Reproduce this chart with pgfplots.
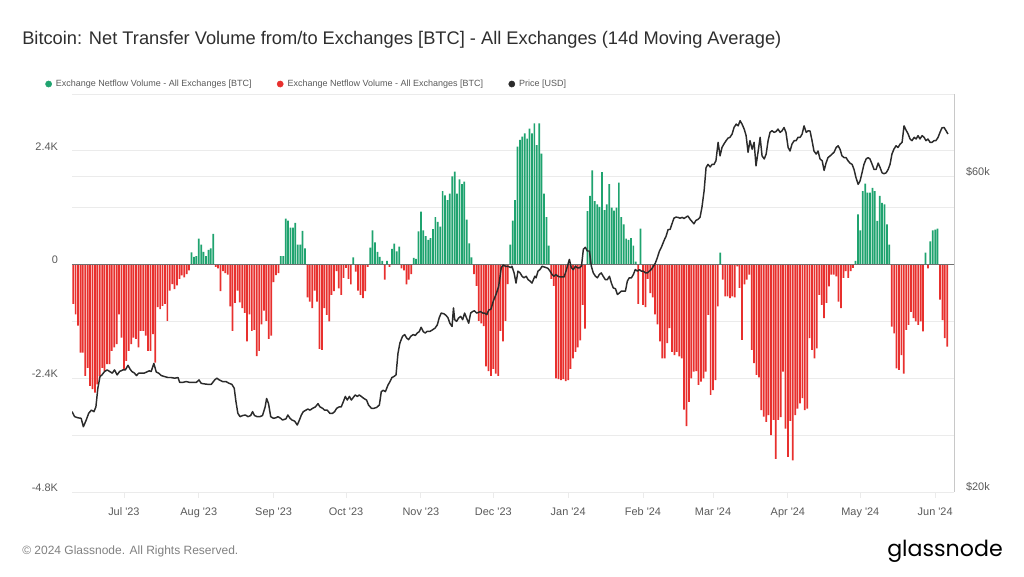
\documentclass[border=0pt]{standalone}
\usepackage{fontspec}
\setmainfont{Liberation Sans}
\newfontfamily\logofont{Poppins}
\usepackage{pgfplots}
\usepackage{pgfplotstable}
\pgfplotsset{compat=1.18}
\definecolor{gnGreen}{HTML}{1FA36F}
\definecolor{gnRed}{HTML}{E8302E}
\definecolor{priceBlack}{HTML}{2B2B2B}
\definecolor{gridGray}{HTML}{EBEBEB}
\definecolor{zeroGray}{HTML}{707070}
\definecolor{labelGray}{HTML}{595959}
\definecolor{titleGray}{HTML}{2E2E2E}
\definecolor{footGray}{HTML}{808080}
\definecolor{borderGray}{HTML}{C8C8C8}

% daily netflow, thousands of BTC; day 0 = 1 Jul 2023
\pgfplotstableread{
d v
-21 -0.83
-20 -1.05
-19 -1.29
-18 -1.86
-17 -1.86
-16 -2.35
-15 -2.18
-14 -2.56
-13 -2.63
-12 -2.70
-11 -2.53
-10 -2.35
-9 -2.18
-8 -2.25
-7 -2.10
-6 -2.10
-5 -1.82
-4 -1.75
-3 -1.68
-2 -1.05
-1 -1.54
0 -2.21
1 -2.03
2 -1.82
3 -1.68
4 -1.54
5 -1.57
6 -1.75
7 -1.40
8 -1.40
9 -1.50
10 -1.82
11 -1.82
12 -1.47
13 -2.07
14 -0.90
15 -0.94
16 -0.87
17 -0.83
18 -1.19
19 -0.55
20 -0.41
21 -0.52
22 -0.44
23 -0.30
24 -0.23
25 -0.27
26 -0.20
27 -0.12
28 0.26
29 0.16
30 0.18
31 0.55
32 0.42
33 0.27
34 0.18
35 0.31
36 0.34
37 0.65
38 -0.05
39 -0.08
40 -0.56
41 -0.14
42 -0.18
43 -0.21
44 -0.88
45 -1.40
46 -0.81
47 -0.55
48 -0.80
49 -0.92
50 -1.02
51 -1.62
52 -1.05
53 -1.40
54 -1.38
55 -1.93
56 -1.82
57 -1.26
58 -0.97
59 -1.19
60 -1.57
61 -1.50
62 -0.37
63 -0.22
64 -0.18
65 0.18
66 0.18
67 0.97
68 0.93
69 0.78
70 0.78
71 0.88
72 0.42
73 0.42
74 0.71
75 0.34
76 -0.69
77 -0.78
78 -0.92
79 -0.55
80 -0.78
81 -1.78
82 -1.80
83 -0.92
84 -1.06
85 -1.20
86 -0.64
87 -0.56
88 -0.14
89 -0.50
90 -0.64
91 -0.28
92 -0.07
93 -0.30
94 -0.42
95 0.15
96 -0.15
97 -0.55
98 -0.64
99 -0.71
100 -0.56
101 -0.05
102 0.36
103 0.72
104 0.47
105 0.27
106 0.16
107 0.08
108 -0.32
109 0.08
110 -0.05
111 0.33
112 0.44
113 0.28
114 0.38
115 -0.08
116 -0.12
117 -0.42
118 -0.32
119 -0.20
120 0.14
121 0.12
122 0.70
123 1.12
124 0.72
125 0.60
126 0.52
127 0.56
128 0.75
129 1.00
130 0.90
131 0.80
132 1.55
133 1.46
134 1.36
135 1.50
136 1.86
137 1.96
138 1.50
139 1.80
140 1.70
141 1.75
142 0.95
143 0.45
144 0.15
145 -0.20
146 -0.45
147 -1.19
148 -1.24
149 -1.30
150 -2.15
151 -2.25
152 -2.35
153 -2.20
154 -2.30
155 -2.35
156 -1.40
157 -1.62
158 -1.19
159 -0.41
160 0.42
161 0.93
162 1.36
163 2.49
164 2.63
165 2.70
166 2.77
167 2.66
168 2.87
169 2.77
170 2.98
171 2.52
172 2.98
173 2.34
174 1.50
175 1.00
176 0.40
177 -0.30
178 -0.45
179 -2.40
180 -2.42
181 -2.44
182 -2.42
183 -2.46
184 -2.44
185 -2.20
186 -1.98
187 -1.84
188 -1.75
189 -1.60
190 -0.85
191 -1.35
192 1.13
193 1.45
194 1.99
195 1.34
196 1.27
197 1.22
198 1.95
199 1.15
200 1.27
201 1.70
202 1.20
203 1.14
204 1.20
205 1.73
206 1.00
207 0.85
208 0.55
209 0.52
210 0.56
211 0.40
212 0.06
213 -0.83
214 0.76
215 -0.85
216 -0.90
217 -0.30
218 -0.60
219 -0.69
220 -1.05
221 -1.26
222 -1.62
223 -1.98
224 -1.98
225 -1.66
226 -1.34
227 -1.84
228 -1.91
229 -1.84
230 -1.94
231 -1.98
232 -3.06
233 -3.41
234 -2.90
235 -2.40
236 -2.26
237 -2.25
238 -2.54
239 -2.47
240 -2.40
241 -2.26
242 -1.06
243 -2.75
244 -2.65
245 -2.44
246 -0.88
247 0.25
248 -0.32
249 -0.67
250 -0.67
251 -0.71
252 -0.67
253 -0.69
254 -0.04
255 -0.49
256 -1.59
257 -0.42
258 -0.32
259 -0.21
260 -1.80
261 -2.08
262 -2.33
263 -2.38
264 -3.07
265 -3.21
266 -3.32
267 -3.18
268 -3.60
269 -3.28
270 -4.10
271 -3.28
272 -3.22
273 -2.26
274 -3.46
275 -4.06
276 -3.30
277 -4.13
278 -3.18
279 -3.04
280 -2.93
281 -2.82
282 -3.07
283 -3.04
284 -1.55
285 -1.80
286 -1.98
287 -1.77
288 -0.64
289 -0.85
290 -1.13
291 -0.81
292 -0.46
293 -0.21
294 -0.21
295 -0.25
296 -0.78
297 -0.92
298 -0.28
299 -0.14
300 -0.28
301 -0.14
302 -0.07
303 0.08
304 1.06
305 0.72
306 1.55
307 1.71
308 1.52
309 1.52
310 1.62
311 1.55
312 0.92
313 1.45
314 1.30
315 1.27
316 0.85
317 0.42
318 -1.31
319 -1.45
320 -2.19
321 -2.22
322 -1.91
323 -2.30
324 -1.38
325 -1.27
326 -1.00
327 -1.13
328 -1.20
329 -1.27
330 -1.20
331 -1.41
332 0.25
333 -0.08
334 0.49
335 0.72
336 0.74
337 0.76
338 -0.74
339 -1.17
340 -1.55
341 -1.73
}\netflow

% BTC price, thousands of USD
\pgfplotstableread{
d p
-21.5 26.46
-20.4 26.0
-19.1 25.9
-17.7 25.85
-16.8 25.1
-15.6 25.7
-14.6 26.3
-13.5 26.6
-12.4 26.46
-11.6 26.9
-10.8 28.7
-9.9 29.9
-9.1 30.07
-8.0 30.43
-6.9 30.6
-5.9 30.43
-4.8 30.25
-3.9 30.6
-2.8 30.07
-1.8 30.43
-0.4 30.6
0.6 30.6
1.7 31.1
2.5 30.7
3.3 30.43
4.4 30.25
5.2 30.0
6.1 30.25
7.2 30.25
8.3 30.25
9.4 30.37
10.5 30.5
11.3 30.43
12.4 31.3
13.4 30.37
14.4 30.25
15.5 30.0
16.8 29.9
18.2 29.8
19.6 29.8
21.0 29.73
22.4 29.8
23.1 29.3
24.4 29.3
25.8 29.38
27.2 29.3
28.6 29.3
30.0 29.3
31.1 29.55
32.0 29.2
33.4 29.14
34.8 29.1
36.2 29.1
37.6 29.55
38.5 29.73
39.5 29.55
40.9 29.38
42.3 29.38
43.6 29.2
44.7 29.1
45.7 28.7
46.4 27.4
47.2 26.3
48.1 26.0
49.2 26.1
50.3 26.15
51.4 26.0
52.5 26.1
53.3 26.46
54.1 26.1
55.2 26.0
56.3 26.0
57.4 26.1
58.5 26.9
59.1 27.7
59.9 27.2
60.8 26.0
61.9 25.85
63.0 25.9
63.8 26.0
64.9 25.85
65.7 25.7
67.1 25.8
67.9 26.15
68.8 25.85
69.6 25.7
70.7 25.6
71.8 25.25
72.7 25.7
73.5 26.15
74.3 26.46
75.4 26.6
76.2 26.7
77.1 26.6
78.2 26.77
79.3 26.9
80.4 27.2
81.2 26.9
82.3 26.77
83.1 26.6
84.2 26.6
85.3 26.3
86.4 26.3
87.3 26.46
88.1 26.77
89.2 26.9
90.0 26.9
90.9 27.4
91.7 27.9
92.5 27.55
93.4 27.9
94.2 27.55
95.0 27.8
95.8 28.04
96.7 27.9
97.5 28.04
98.3 27.9
99.4 27.7
100.5 27.55
101.3 27.08
102.5 26.77
103.6 26.77
104.7 26.85
105.8 27.08
106.6 28.37
107.4 28.5
108.3 28.37
109.4 29.04
110.2 29.38
111.0 29.8
111.8 29.9
112.7 30.07
113.5 32.4
114.3 33.6
115.4 34.4
116.3 34.6
117.1 34.2
117.9 34.0
118.8 34.4
119.8 34.6
120.7 34.5
121.5 34.8
122.3 34.95
123.1 35.5
124.0 34.95
124.8 34.8
125.6 35.0
126.8 35.0
127.9 35.2
128.9 35.4
129.8 35.8
130.6 36.7
131.4 37.3
132.6 37.2
133.4 37.0
134.2 36.7
135.0 36.0
135.9 35.6
136.5 37.97
137.0 36.45
137.8 36.24
138.6 36.66
139.5 36.87
140.3 36.45
141.1 37.3
142.0 36.6
142.8 36.0
143.6 37.3
144.4 37.5
145.2 37.6
146.1 37.3
146.9 37.4
147.7 37.5
148.6 37.3
149.4 37.3
150.3 37.1
151.1 37.7
152.0 37.8
153.0 38.9
154.1 39.8
155.2 40.9
156.3 43.7
157.1 44.1
158.0 43.9
159.1 43.9
160.2 43.7
160.7 43.9
161.6 42.9
162.4 41.4
163.2 43.16
164.1 42.9
164.9 42.4
165.7 42.17
166.6 42.4
167.4 41.9
168.2 41.7
169.0 41.4
170.2 42.4
170.7 42.17
171.5 43.16
172.3 43.4
173.2 43.9
174.0 43.8
174.8 43.7
175.6 43.6
176.5 43.16
177.3 42.66
178.1 42.4
178.9 42.66
179.8 42.4
180.6 42.3
181.4 42.3
182.3 42.3
183.1 43.16
183.9 44.18
184.5 44.96
185.3 43.67
186.1 43.4
187.0 43.9
187.8 43.67
188.6 43.67
189.5 43.9
190.3 46.6
191.1 46.9
191.9 46.3
192.8 46.3
193.6 43.9
194.4 42.9
195.3 42.4
196.1 42.17
196.9 42.66
197.7 42.9
198.5 42.4
199.4 41.9
200.2 41.9
201.1 42.4
201.9 41.4
202.7 40.7
203.6 40.6
204.4 39.8
205.2 40.0
206.0 40.25
206.9 40.25
207.7 40.25
208.5 41.68
209.3 42.17
210.2 42.17
211.0 42.66
211.8 43.4
212.7 43.16
213.5 43.4
214.3 43.16
215.1 43.16
216.0 42.9
216.8 42.9
217.6 43.16
218.4 43.4
219.3 43.9
220.1 44.4
220.9 45.2
221.8 46.3
222.6 46.9
223.3 47.6
224.0 48.3
224.5 48.7
225.4 49.9
226.2 49.9
227.0 50.9
227.8 51.9
228.7 52.1
229.5 52.05
230.3 51.9
231.2 52.05
232.0 51.85
232.8 52.1
233.6 52.3
234.5 51.7
235.3 51.3
236.1 50.9
236.9 51.5
237.8 51.7
238.6 52.05
239.4 53.9
240.3 57.1
241.1 61.9
241.9 62.6
242.8 62.05
243.6 62.6
244.4 62.6
245.2 63.4
246.1 67.6
246.9 64.5
247.7 66.4
248.5 67.2
249.4 68.0
250.2 68.6
251.0 68.8
251.9 69.6
252.7 71.2
253.6 72.05
254.4 71.6
255.2 72.9
256.0 72.05
256.9 70.8
257.7 69.2
258.5 65.3
259.3 68.0
260.2 66.0
261.0 67.6
261.8 62.3
262.7 65.6
263.5 68.8
264.3 64.5
265.2 63.8
266.0 64.9
266.8 68.0
267.6 70.0
268.4 70.4
269.3 70.0
270.1 70.2
270.9 70.8
271.8 70.0
272.6 70.4
273.4 71.2
274.2 70.0
275.1 66.4
275.9 65.6
276.7 67.2
277.6 68.0
278.4 68.0
279.2 68.8
280.1 68.8
280.9 69.6
281.7 71.6
282.6 70.0
283.4 70.4
284.2 70.3
285.0 68.0
285.8 65.6
286.7 64.9
287.5 65.6
288.3 63.8
289.2 63.4
290.0 61.3
290.8 62.9
291.6 64.1
292.5 64.5
293.3 64.9
294.1 65.3
295.0 66.4
295.8 66.8
296.6 66.0
297.4 64.5
298.3 64.1
299.1 64.1
299.9 63.4
300.7 62.9
301.6 62.6
302.4 61.5
303.2 59.8
304.1 58.4
304.9 59.1
305.7 60.8
306.5 62.6
307.4 63.8
308.2 64.1
309.0 63.8
309.9 62.6
310.7 61.5
311.5 61.5
312.4 62.9
313.2 61.9
314.0 60.8
314.8 60.6
315.7 60.8
316.5 61.5
317.3 62.6
318.1 64.9
318.9 66.0
319.8 66.8
320.6 66.4
321.5 67.2
322.3 67.6
323.1 71.6
323.9 70.6
324.8 69.6
325.6 68.4
326.4 68.0
327.3 68.8
328.1 68.4
328.9 69.2
329.7 68.4
330.6 69.2
331.4 68.8
332.2 68.0
333.0 68.4
333.9 67.6
334.7 67.6
335.5 68.0
336.3 68.0
337.2 68.8
338.0 70.0
338.8 71.1
339.7 71.2
340.5 70.4
341.3 69.6
}\price

\begin{document}
\begin{tikzpicture}
\path[use as bounding box] (0pt,0pt) rectangle (768pt,432pt);

\node[anchor=base west, inner sep=0, text=titleGray,
      font=\fontsize{13.7}{16}\selectfont] at (16.5pt,398.6pt)
  {Bitcoin: Net Transfer Volume from/to Exchanges [BTC] - All Exchanges (14d Moving Average)};

\begin{axis}[
  at={(54pt,63pt)}, anchor=south west,
  scale only axis, width=661.5pt, height=298.5pt,
  xmin=-21.5, xmax=343.8,
  ymin=-4.8, ymax=3.6,
  axis line style={draw=none},
  xtick={0,31,62,92,123,153,184,215,244,275,305,336},
  xticklabels={Jul \textquotesingle23,Aug \textquotesingle23,Sep \textquotesingle23,Oct \textquotesingle23,Nov \textquotesingle23,Dec \textquotesingle23,Jan \textquotesingle24,Feb \textquotesingle24,Mar \textquotesingle24,Apr \textquotesingle24,May \textquotesingle24,Jun \textquotesingle24},
  xtick pos=bottom, xtick align=outside,
  major tick length=4.5pt,
  xtick style={draw=gridGray, line width=0.6pt},
  ytick={-4.8,-3.6,-2.4,-1.2,0,1.2,2.4,3.6},
  yticklabels={-4.8K,,-2.4K,,0,,2.4K,},
  ytick pos=left,
  ytick style={draw=none},
  extra y ticks={1.857},
  extra y tick labels={},
  extra y tick style={ytick style={draw=none}},
  ymajorgrids,
  major grid style={gridGray, line width=0.6pt},
  tick label style={font=\fontsize{8.2}{10}\selectfont, text=labelGray},
  yticklabel style={xshift=-7pt, yshift=3.4pt},
  xticklabel style={yshift=-4pt},
  legend columns=3,
  legend cell align=left,
  legend style={at={(-0.0306,1.0251)}, anchor=west, draw=none, fill=none,
    inner sep=0pt, font=\fontsize{6.75}{8}\selectfont, text=labelGray,
    /tikz/every even column/.append style={column sep=17pt},
    /tikz/every odd column/.append style={column sep=1pt}},
]
\addlegendimage{legend image code/.code={\fill[gnGreen] (0pt,0pt) circle (2.3pt);}}
\addlegendentry{Exchange Netflow Volume - All Exchanges [BTC]}
\addlegendimage{legend image code/.code={\fill[gnRed] (0pt,0pt) circle (2.3pt);}}
\addlegendentry{Exchange Netflow Volume - All Exchanges [BTC]}
\addlegendimage{legend image code/.code={\fill[priceBlack] (0pt,0pt) circle (2.3pt);}}
\addlegendentry{Price [USD]}

\addplot[ybar, bar width=1.3pt, bar shift=0pt, fill=gnGreen, draw=none,
  forget plot, restrict y to domain=0:10] table[x=d, y=v] {\netflow};
\addplot[ybar, bar width=1.3pt, bar shift=0pt, fill=gnRed, draw=none,
  forget plot, restrict y to domain=-10:0] table[x=d, y=v] {\netflow};
\draw[zeroGray, line width=1pt] (axis cs:-21.5,0) -- (axis cs:343.8,0);
\end{axis}

\begin{axis}[
  at={(54pt,63pt)}, anchor=south west,
  scale only axis, width=661.5pt, height=298.5pt,
  xmin=-21.5, xmax=343.8,
  ymode=log, ymin=20, ymax=80,
  axis x line=none,
  axis y line*=right,
  y axis line style={draw=borderGray, line width=0.6pt, -},
  ytick={20,60}, yticklabels={\$20k,\$60k},
  ytick style={draw=none},
  yminorticks=false,
  tick label style={font=\fontsize{8.2}{10}\selectfont, text=labelGray},
  yticklabel style={anchor=west, xshift=5.5pt, yshift=3.6pt},
]
\addplot[priceBlack, line width=1.1pt, line join=round, mark=none] table[x=d, y=p] {\price};
\end{axis}

\node[anchor=base west, inner sep=0, text=footGray,
      font=\fontsize{9}{11}\selectfont] at (16.5pt,16.5pt)
  {© 2024 Glassnode. All Rights Reserved.};
\node[anchor=base east, inner sep=0, text=black,
      font=\logofont\fontsize{16.6}{18}\selectfont] at (752.25pt,15pt)
  {glassnode};
\end{tikzpicture}
\end{document}
